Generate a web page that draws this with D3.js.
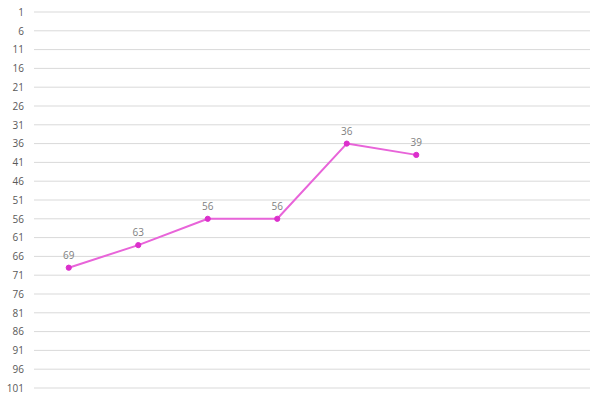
<!DOCTYPE html>
<html><head><meta charset="utf-8">
<script src="https://cdn.jsdelivr.net/npm/d3@7"></script>
<style>body{margin:0;background:#fff}svg{display:block}</style>
</head><body>
<svg id="c" width="600" height="400"></svg>
<script>
const categories = ["1","2","3","4","5","6","7","8"];
const values = [69, 63, 56, 56, 36, 39, null, null];
const yTicks = [1,6,11,16,21,26,31,36,41,46,51,56,61,66,71,76,81,86,91,96,101];

(function () {
const svg = d3.select("#c");
const mL = 34, mR = 590, mT = 12, mB = 388;
const font = "'Open Sans', 'Noto Sans', sans-serif";
const x = d3.scaleBand().domain(categories).range([mL, mR]);
const y = d3.scaleLinear().domain([1, 101]).range([mT, mB]);

const grid = svg.append("g");
grid.selectAll("line").data(yTicks).join("line")
  .attr("x1", mL).attr("x2", mR)
  .attr("y1", d => y(d)).attr("y2", d => y(d))
  .attr("stroke", "#d9d9d9").attr("stroke-width", 1);

const yAxis = d3.axisLeft(y).tickValues(yTicks).tickSize(0).tickPadding(10);
const ga = svg.append("g").attr("transform", `translate(${mL},0)`).call(yAxis);
ga.select(".domain").remove();
ga.selectAll("text").attr("fill", "#595959").style("font-family", font).style("font-size", "10px");

const data = categories.map((c, i) => ({c, v: values[i]})).filter(d => d.v != null);
const cx = d => x(d.c) + x.bandwidth() / 2;

svg.append("path").datum(data)
  .attr("fill", "none").attr("stroke", "#e864d9").attr("stroke-width", 2)
  .attr("stroke-linejoin", "round")
  .attr("d", d3.line().x(cx).y(d => y(d.v)));

svg.selectAll("circle.pt").data(data).join("circle").attr("class", "pt")
  .attr("cx", cx).attr("cy", d => y(d.v)).attr("r", 2.6)
  .attr("fill", "#dc2fcc").attr("stroke", "#dc2fcc");

svg.selectAll("text.lbl").data(data).join("text").attr("class", "lbl")
  .attr("x", cx).attr("y", d => y(d.v) - 9)
  .attr("text-anchor", "middle")
  .attr("fill", "#7f7f7f")
  .style("font-family", font).style("font-size", "10px")
  .text(d => d.v);
})();
</script>
</body></html>
